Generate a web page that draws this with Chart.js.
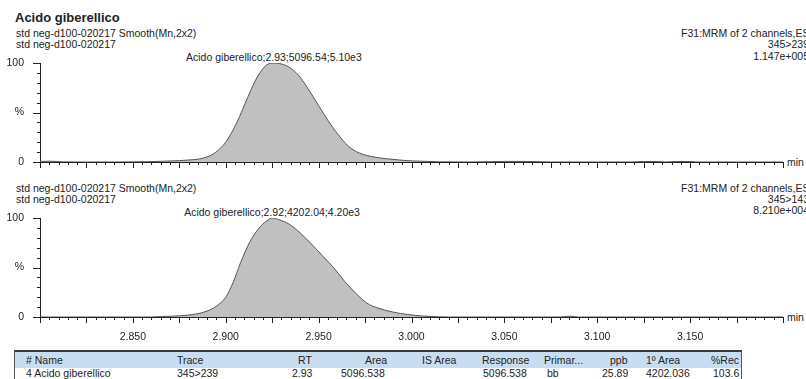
<!DOCTYPE html>
<html>
<head>
<meta charset="utf-8">
<script src="https://cdn.jsdelivr.net/npm/chart.js@4.4.1/dist/chart.umd.min.js"></script>
<style>
  html, body { margin: 0; padding: 0; background: #fff; }
  body { width: 806px; height: 379px; position: relative; overflow: hidden;
         font-family: "Liberation Sans", Arial, sans-serif; color: #222; }
  .t { position: absolute; font-size: 10.5px; line-height: 12px; white-space: nowrap; }
  canvas { position: absolute; left: 0; }
  #tbl { position: absolute; left: 14px; top: 350px; width: 726px; height: 32px;
         border-top: 2px solid #3a3a3a; border-left: 1px solid #555; border-right: 1px solid #555; }
  #tblHead { position: absolute; left: 0; top: 0; width: 100%; height: 16px; background: #c8ddf0; }
</style>
</head>
<body>

<div class="t" style="left:15px;top:10px;font-size:13px;line-height:16px;font-weight:bold;">Acido giberellico</div>

<div class="t" style="left:16px;top:27px;">std neg-d100-020217 Smooth(Mn,2x2)</div>
<div class="t" style="left:16px;top:38px;">std neg-d100-020217</div>
<div class="t" style="right:-7px;top:27px;">F31:MRM of 2 channels,ES-</div>
<div class="t" style="right:-3px;top:38px;">345&gt;239</div>
<div class="t" style="right:-3px;top:50px;">1.147e+005</div>
<div class="t" id="peakTop" style="top:51px;"></div>

<div class="t" style="left:16px;top:182px;">std neg-d100-020217 Smooth(Mn,2x2)</div>
<div class="t" style="left:16px;top:193px;">std neg-d100-020217</div>
<div class="t" style="right:-7px;top:182px;">F31:MRM of 2 channels,ES-</div>
<div class="t" style="right:-3px;top:193px;">345&gt;143</div>
<div class="t" style="right:-3px;top:204px;">8.210e+004</div>
<div class="t" id="peakBottom" style="top:206px;"></div>

<div class="t" style="left:787px;top:156px;">min</div>
<div class="t" style="left:787px;top:311px;">min</div>

<canvas id="topChart" width="806" height="180" style="top:0;"></canvas>
<canvas id="bottomChart" width="806" height="160" style="top:180px;"></canvas>

<div id="tbl"><div id="tblHead"></div></div>

<script>
// retention time (min) and relative intensity (%)
const rtTop = [2.800, 2.806, 2.812, 2.820, 2.840, 2.858, 2.870, 2.880, 2.888, 2.894,
  2.900, 2.906, 2.912, 2.917, 2.922, 2.926, 2.930, 2.934, 2.939, 2.944,
  2.950, 2.955, 2.960, 2.966, 2.972, 2.980, 2.988, 2.996, 3.005, 3.015,
  3.030, 3.042, 3.050, 3.060, 3.068, 3.075, 3.118, 3.125, 3.133, 3.137,
  3.142, 3.150, 3.154, 3.200];
const pctTop = [0.6, 0.8, 0.2, 0, 0, 0.3, 1.0, 2.0, 4, 9,
  20, 40, 66, 86, 98, 100, 99, 96, 88, 75,
  57, 42, 29, 16, 9, 5, 3, 1.6, 0.8, 0.2,
  0, 0.3, 0.6, 0.6, 0.3, 0, 0, 0.5, 0.5, 0,
  0.5, 0.5, 0, 0];

const rtBottom = [2.800, 2.860, 2.866, 2.875, 2.884, 2.890, 2.895, 2.900, 2.904, 2.908,
  2.913, 2.918, 2.922, 2.925, 2.929, 2.934, 2.940, 2.946, 2.952, 2.958,
  2.964, 2.970, 2.976, 2.982, 2.990, 2.998, 3.006, 3.015, 3.020, 3.080,
  3.085, 3.090, 3.200];
const pctBottom = [0, 0, 0.5, 1.2, 3, 6, 11, 20, 35, 55,
  76, 90, 97, 100, 98, 94, 85, 74, 62, 50,
  36, 24, 14, 9, 5, 2.5, 1, 0.2, 0, 0,
  0.8, 0, 0];

const peakLabels = ['Acido giberellico;2.93;5096.54;5.10e3', 'Acido giberellico;2.92;4202.04;4.20e3'];
const peakRT = [2.926, 2.925];

const tableHeaders = ['# Name', 'Trace', 'RT', 'Area', 'IS Area', 'Response', 'Primar...', 'ppb', '1º Area', '%Rec'];
const tableRow = ['4 Acido giberellico', '345>239', '2.93', '5096.538', '', '5096.538', 'bb', '25.89', '4202.036', '103.6'];
// column anchor (x) and alignment
const colX = [26, 177, 312, 387, 422, 482, 544, 628, 646, 739];
const colAlign = ['l', 'l', 'r', 'r', 'l', 'l', 'l', 'r', 'l', 'r'];
const rowX = [26, 177, 312, 385, 422, 483, 547, 628, 646, 739];

function toPoints(xs, ys) {
  return xs.map((x, i) => ({ x: x, y: ys[i] }));
}

// tick marks pointing outwards, major ones longer
const tickMarks = {
  id: 'tickMarks',
  afterDatasetsDraw(chart) {
    const ctx = chart.ctx;
    const xs = chart.scales.x, ys = chart.scales.y;
    ctx.save();
    ctx.strokeStyle = '#222';
    ctx.lineWidth = 1;
    ctx.beginPath();
    xs.ticks.forEach(t => {
      const px = Math.round(xs.getPixelForValue(t.value)) + 0.5;
      const major = Math.round(t.value * 1000) % 25 === 0;
      ctx.moveTo(px, ys.bottom);
      ctx.lineTo(px, ys.bottom + (major ? 6 : 3));
    });
    ys.ticks.forEach(t => {
      const py = Math.round(ys.getPixelForValue(t.value)) + 0.5;
      const major = t.value % 50 === 0;
      ctx.moveTo(xs.left, py);
      ctx.lineTo(xs.left - (major ? 7 : 3), py);
    });
    ctx.stroke();
    ctx.restore();
  }
};

function makeChart(id, xs, ys, padTop, axisH, showLabels) {
  return new Chart(document.getElementById(id), {
    type: 'line',
    data: {
      datasets: [{
        data: toPoints(xs, ys),
        borderColor: '#555',
        borderWidth: 1,
        backgroundColor: '#c0c0c0',
        fill: 'origin',
        pointRadius: 0,
        tension: 0.4,
        cubicInterpolationMode: 'monotone'
      }]
    },
    options: {
      responsive: false,
      animation: false,
      events: [],
      layout: { padding: { top: padTop, right: 23, left: 0, bottom: 0 } },
      plugins: { legend: { display: false }, tooltip: { enabled: false } },
      scales: {
        x: {
          type: 'linear',
          min: 2.8,
          max: 3.2,
          grid: { display: false },
          border: { display: true, color: '#222', width: 1 },
          ticks: {
            display: showLabels,
            stepSize: 0.005,
            autoSkip: false,
            maxRotation: 0,
            padding: 6,
            color: '#222',
            font: { family: 'Liberation Sans', size: 10.5 },
            callback: v => {
              const m = Math.round(v * 1000);
              return (m % 50 === 0 && m > 2800 && m < 3200) ? v.toFixed(3) : '';
            }
          },
          afterFit: s => { s.height = axisH; }
        },
        y: {
          min: 0,
          max: 100,
          grid: { display: false },
          border: { display: true, color: '#222', width: 1 },
          ticks: {
            stepSize: 10,
            autoSkip: false,
            padding: 8,
            color: '#222',
            font: { family: 'Liberation Sans', size: 10.5 },
            callback: v => (v === 100 ? '100' : v === 50 ? '%' : v === 0 ? '0' : '')
          },
          afterFit: s => { s.width = 40; }
        }
      }
    },
    plugins: [tickMarks]
  });
}

const topChart = makeChart('topChart', rtTop, pctTop, 63, 18, false);
const bottomChart = makeChart('bottomChart', rtBottom, pctBottom, 38, 23, true);

// peak annotations centred over the apex
function placePeak(elId, chart, rt, text) {
  const el = document.getElementById(elId);
  el.textContent = text;
  const px = chart.scales.x.getPixelForValue(rt);
  el.style.left = (px - el.offsetWidth / 2) + 'px';
}
placePeak('peakTop', topChart, peakRT[0], peakLabels[0]);
placePeak('peakBottom', bottomChart, peakRT[1], peakLabels[1]);

// results table
const tbl = document.getElementById('tbl');
function addRow(cells, xsArr, top) {
  cells.forEach((c, i) => {
    if (!c) return;
    const d = document.createElement('div');
    d.className = 't';
    d.textContent = c;
    d.style.top = top + 'px';
    tbl.appendChild(d);
    const x = xsArr[i] - 15;
    if (colAlign[i] === 'r') d.style.left = (x - d.offsetWidth) + 'px';
    else d.style.left = x + 'px';
  });
}
addRow(tableHeaders, colX, 2);
addRow(tableRow, rowX, 15);
</script>
</body>
</html>
